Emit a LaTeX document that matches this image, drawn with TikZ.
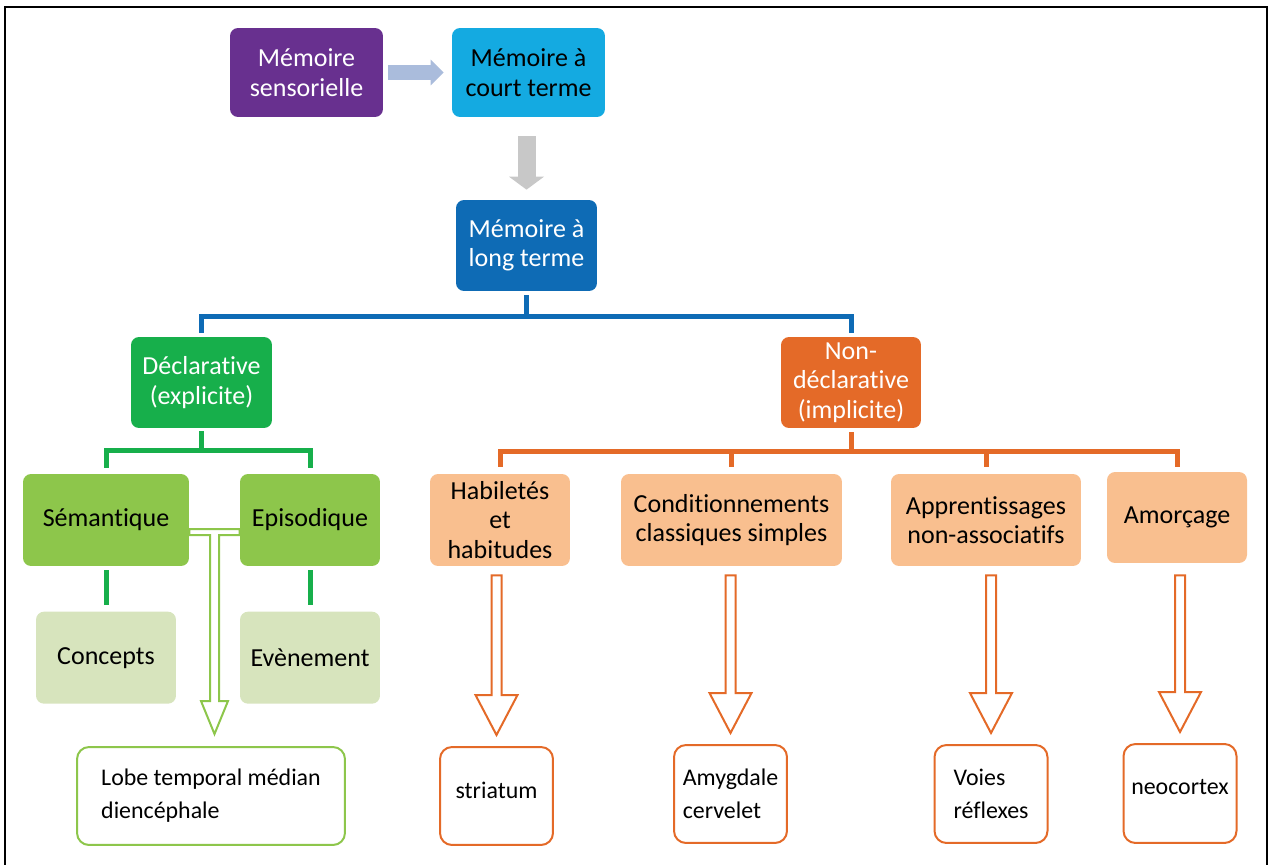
\documentclass[tikz,border=0pt]{standalone}
\usepackage{fontspec}
\setmainfont{Carlito}[RawFeature={-liga;-clig;-calt;-dlig}]
\usepackage{tikz}
\usetikzlibrary{arrows.meta, positioning, calc}

\definecolor{sensviolet}{HTML}{68308F}
\definecolor{courtcyan}{HTML}{14AAE1}
\definecolor{longblue}{HTML}{0E6BB5}
\definecolor{declgreen}{HTML}{17AF4B}
\definecolor{leafgreen}{HTML}{8DC64B}
\definecolor{palegreen}{HTML}{D7E4BD}
\definecolor{implorange}{HTML}{E46A28}
\definecolor{peach}{HTML}{F9BF8F}
\definecolor{arrowblue}{HTML}{AABCDC}
\definecolor{arrowgray}{HTML}{C8C8C8}

\begin{document}
\begin{tikzpicture}[x=0.02cm, y=-0.02cm,
      box/.style={rounded corners=0.16cm, minimum height=1.82cm, align=center, inner sep=2pt, font=\fontsize{14.8}{16.8}\selectfont},
      region/.style={draw, rounded corners=0.24cm, line width=0.04cm, fill=white, minimum width=2.26cm, minimum height=1.96cm, align=left, inner sep=2pt, font=\fontsize{13.6}{18.7}\selectfont},
      bus/.style={line width=0.1cm},
      hollow/.style={line width=0.04cm, fill=white, line join=miter}
    ]
      \useasboundingbox (0,0) rectangle (1271,865);
      % Frame
      \draw[line width=0.05cm] (5,7) rectangle (1267,880);

      % Sensory, short and long term
      \node[box, fill=sensviolet, text=white, minimum width=3.06cm, minimum height=1.78cm] (sens) at (306.5,72.5) {Mémoire\\sensorielle};
      \node[box, fill=courtcyan, minimum width=3.06cm, minimum height=1.78cm] (court) at (528.5,72.5) {Mémoire à\\court terme};
      \node[box, fill=longblue, text=white, minimum width=2.82cm] (long) at (526.5,245.5) {Mémoire à\\long terme};

      % Declarative / non-declarative
      \node[box, fill=declgreen, text=white, minimum width=2.82cm] (decl) at (201.5,382.5) {Déclarative\\(explicite)};
      \node[box, fill=implorange, text=white, minimum width=2.8cm] (nondecl) at (851,382.5) {Non-\\déclarative\\(implicite)};

      % Declarative branch
      \node[box, fill=leafgreen, minimum width=3.32cm, minimum height=1.84cm] (sem) at (106,520) {Sémantique};
      \node[box, fill=leafgreen, minimum width=2.8cm, minimum height=1.84cm] (epi) at (310,520) {Episodique};
      \node[box, fill=palegreen, minimum width=2.8cm, minimum height=1.84cm, below=0.9cm of sem] (concepts) {Concepts};
      \node[box, fill=palegreen, minimum width=2.8cm, minimum height=1.84cm, below=0.9cm of epi] (event) {Evènement};
      \node[region, draw=leafgreen, minimum width=5.36cm] (lobe) at (211,796) {Lobe temporal médian\\diencéphale};

      % Non-declarative branch
      \node[box, fill=peach, minimum width=2.8cm, minimum height=1.84cm] (hab) at (500,520) {Habiletés\\et\\habitudes};
      \node[box, fill=peach, minimum width=4.42cm, minimum height=1.84cm] (cond) at (731.5,520) {Conditionnements\\classiques simples};
      \node[box, fill=peach, minimum width=3.8cm, minimum height=1.84cm] (appr) at (986,520) {Apprentissages\\non-associatifs};
      \node[box, fill=peach, minimum width=2.8cm] (amor) at (1177,517.5) {Amorçage};

      % Brain structures
      \node[region, draw=implorange] (stri) at (496.5,796) {\raisebox{3.4pt}[\height][\depth]{striatum}};
      \node[region, draw=implorange] (amyg) at (730.5,794) {Amygdale\\cervelet};
      \node[region, draw=implorange] (voies) at (991,794) {Voies\\réflexes};
      \node[region, draw=implorange, minimum height=1.98cm] (neo) at (1180,793.5) {\raisebox{3.6pt}[\height][\depth]{neocortex}};

      % Block arrows
      \draw[arrowblue, line width=0.32cm, -{Triangle[width=0.52cm, length=0.26cm, line width=0pt]}, shorten <=0.1cm, shorten >=0.16cm] (sens) -- (court);
      \draw[arrowgray, line width=0.36cm, -{Triangle[width=0.7cm, length=0.26cm, line width=0pt]}, shorten <=0.38cm, shorten >=0.2cm] (long.north |- court.south) -- (long.north);

      % Tree connectors
      \draw[bus, longblue] ([yshift=-0.08cm]long.south) -- ++(0,-0.42cm) coordinate (split) -| ([yshift=0.08cm]decl.north);
      \draw[bus, longblue] (split) -| ([yshift=0.08cm]nondecl.north);
      \draw[bus, declgreen] ([yshift=-0.06cm]decl.south) -- ++(0,-0.38cm) coordinate (dsplit) -| ([yshift=0.12cm]sem.north);
      \draw[bus, declgreen] (dsplit) -| ([yshift=0.12cm]epi.north);
      \draw[bus, declgreen] ([yshift=-0.08cm]sem.south) -- ([yshift=0.12cm]concepts.north);
      \draw[bus, declgreen] ([yshift=-0.08cm]epi.south) -- ([yshift=0.12cm]event.north);
      \draw[bus, implorange] ([yshift=-0.08cm]nondecl.south) -- ++(0,-0.38cm) coordinate (nsplit) -| ([yshift=0.14cm]hab.north);
      \draw[bus, implorange] (nsplit) -| ([yshift=0.14cm]cond.north) (nsplit) -| ([yshift=0.14cm]appr.north) (nsplit) -| ([yshift=0.1cm]amor.north);

      % Hollow arrows to structures
      \draw[hollow, draw=leafgreen] let \p1=(sem.east), \p2=(epi.west), \p3=(lobe.north), \p4=($(sem.east)!0.5!(epi.west)$) in
        (\x1,\y1-0.18cm) -- (\x2,\y1-0.18cm) -- (\x2,\y1-0.3cm) -- (\x4+0.09cm,\y1-0.3cm) -- (\x4+0.09cm,\y3+0.9cm) -- (\x4+0.27cm,\y3+0.9cm)
        -- (\x4,\y3+0.24cm) -- (\x4-0.27cm,\y3+0.9cm) -- (\x4-0.09cm,\y3+0.9cm) -- (\x4-0.09cm,\y1-0.3cm) -- (\x1,\y1-0.3cm) -- cycle;
      \draw[hollow, draw=implorange] let \p1=(hab.south), \p2=(stri.north) in
        (\x2-0.1cm,\y1-0.18cm) -- (\x2+0.1cm,\y1-0.18cm) -- (\x2+0.1cm,\y2+1.02cm) -- (\x2+0.42cm,\y2+1.02cm) -- (\x2,\y2+0.22cm) -- (\x2-0.42cm,\y2+1.02cm) -- (\x2-0.1cm,\y2+1.02cm) -- cycle;
      \draw[hollow, draw=implorange] let \p1=(cond.south), \p2=(amyg.north) in
        (\x2-0.1cm,\y1-0.18cm) -- (\x2+0.1cm,\y1-0.18cm) -- (\x2+0.1cm,\y2+1.02cm) -- (\x2+0.42cm,\y2+1.02cm) -- (\x2,\y2+0.22cm) -- (\x2-0.42cm,\y2+1.02cm) -- (\x2-0.1cm,\y2+1.02cm) -- cycle;
      \draw[hollow, draw=implorange] let \p1=(appr.south), \p2=(voies.north) in
        (\x2-0.1cm,\y1-0.18cm) -- (\x2+0.1cm,\y1-0.18cm) -- (\x2+0.1cm,\y2+1.02cm) -- (\x2+0.42cm,\y2+1.02cm) -- (\x2,\y2+0.22cm) -- (\x2-0.42cm,\y2+1.02cm) -- (\x2-0.1cm,\y2+1.02cm) -- cycle;
      \draw[hollow, draw=implorange] let \p1=(amor.south), \p2=(neo.north) in
        (\x2-0.1cm,\y1-0.24cm) -- (\x2+0.1cm,\y1-0.24cm) -- (\x2+0.1cm,\y2+1.02cm) -- (\x2+0.42cm,\y2+1.02cm) -- (\x2,\y2+0.22cm) -- (\x2-0.42cm,\y2+1.02cm) -- (\x2-0.1cm,\y2+1.02cm) -- cycle;
    \end{tikzpicture}
\end{document}
